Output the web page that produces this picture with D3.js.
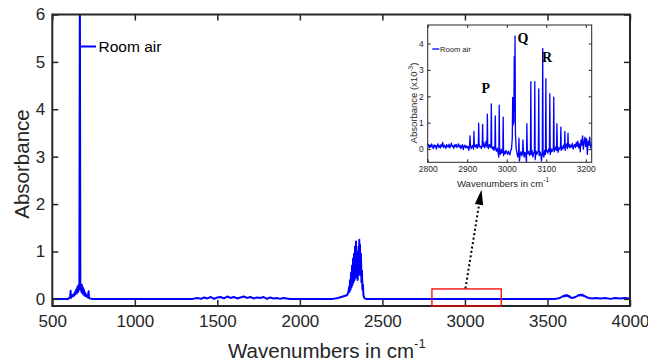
<!DOCTYPE html>
<html><head><meta charset="utf-8">
<script src="https://cdn.jsdelivr.net/npm/d3@7/dist/d3.min.js"></script>
<style>body{margin:0;background:#fff}svg{display:block;font-family:"Liberation Sans",Arial,sans-serif}</style>
</head><body><svg id="c" width="648" height="362"></svg>
<script>
// ---------- main spectrum (wavenumber, absorbance) ----------
const mainWn = [500,540,580,596,600,604,608,611,613,617,621,625,629,633,637,641,645,649,653,657,661,664,667,670,673,676,679,682,685,688,691,694,697,700,704,708,712,716,720,722,728,740,900,1100,1300,1350,
1380,1400,1420,1440,1460,1480,1500,1520,1540,1560,1580,1600,1620,1640,1660,1680,1700,1720,1740,1760,1780,1800,1820,1840,1860,1880,1900,1940,2000,2100,2200,
2230,2240,2250,2260,2270,2280,2288,2294,2298,2301,2304,2307,2310,2313,2316,2319,2322,2325,2328,2331,2334,2337,2340,2342,2344,2346,2348,2350,2352,2354,2356,2358,2360,2362,2364,2367,2370,2373,2376,2379,2382,2385,2388,2392,2400,
2600,2800,3000,3200,3400,3540,
3560,3575,3585,3595,3602,3608,3614,3620,3626,3632,3640,3650,3660,3670,3680,3688,3694,3700,3706,3712,3718,3726,3734,3742,3752,3770,3790,3820,3850,3880,3910,3940,3970,4000];
const mainAbs = [0,0,0,0,0.01,0.03,0.04,0.17,0.02,0.05,0.07,0.05,0.1,0.07,0.14,0.1,0.2,0.12,0.26,0.15,0.3,0.2,6.6,0.22,0.28,0.15,0.3,0.12,0.24,0.1,0.2,0.08,0.14,0.06,0.1,0.05,0.06,0.03,0.16,0.02,0.01,0,0,0,0,0,
0.02,0,0.03,0.01,0.04,0,0.03,0.04,0.01,0.05,0.02,0.04,0.01,0.03,0.05,0.02,0.04,0.01,0.03,0.02,0.04,0,0.03,0.01,0.02,0,0.02,0,0,0,0,
0.02,0.03,0.04,0.05,0.06,0.07,0.09,0.15,0.25,0.15,0.4,0.2,0.55,0.25,0.7,0.3,0.85,0.35,0.95,0.4,1.1,0.45,1.21,0.5,1.0,0.45,0.7,0.4,0.8,0.5,1.1,0.6,1.25,0.55,1.15,0.5,0.95,0.35,0.6,0.2,0.3,0.08,0.04,0.01,0,
0,0,0,0,0,0,
0.01,0.02,0.04,0.06,0.05,0.08,0.06,0.08,0.05,0.06,0.03,0.02,0.03,0.04,0.06,0.08,0.07,0.09,0.07,0.09,0.06,0.06,0.04,0.03,0.02,0.01,0.02,0.01,0.02,0,0.02,0.01,0.02,0.01];
const mainXTicks = [500,1000,1500,2000,2500,3000,3500,4000];
const mainYTicks = [0,1,2,3,4,5,6];

// ---------- inset: baseline every 2 cm-1 from 2800, plus line peaks ----------
const insetBaseStart = 2800, insetBaseStep = 2;
const insetBaseAbs = [
0.12,0.18,0.05,0.15,0.08,0.2,0.1,0.02,0.16,0.09,
0.14,0.0,0.12,0.2,0.07,0.13,0.04,0.18,0.1,0.25,
0.06,0.15,0.1,0.02,0.17,0.11,0.08,0.19,0.05,0.14,
0.22,0.09,0.13,0.03,0.16,0.1,0.18,0.06,0.12,0.2,
0.08,0.14,0.02,0.11,0.17,-0.02,0.1,0.15,0.05,0.12,
0.05,0.1,-0.05,0.12,0.2,0.02,0.08,0.14,0.0,0.1,
0.15,0.06,0.18,0.04,0.12,0.22,0.08,0.1,0.02,0.16,
0.1,0.25,0.05,0.14,0.3,0.08,0.12,0.02,0.18,0.1,
0.06,0.12,0.0,0.08,-0.05,0.1,0.02,-0.08,0.04,-0.12,
-0.3,-0.05,-0.2,0.0,-0.15,-0.08,-0.25,-0.1,-0.18,-0.05,
-0.12,-0.2,-0.08,-0.15,-0.22,-0.05,0.0,0.4,0.9,1.0,
1.5,0.6,0.0,-0.15,-0.3,-0.1,-0.45,-0.2,-0.1,-0.25,
-0.15,-0.05,-0.3,-0.12,-0.2,-0.5,-0.1,-0.18,-0.08,-0.25,
-0.12,-0.2,-0.05,-0.3,-0.15,-0.1,-0.4,-0.08,-0.2,-0.12,
-0.05,-0.25,-0.1,-0.18,-0.45,-0.08,-0.15,-0.3,-0.05,-0.2,
-0.1,-0.05,-0.15,0.0,-0.08,-0.2,0.02,-0.1,-0.05,0.05,
-0.1,0.0,0.08,-0.05,0.1,-0.12,0.05,0.0,0.12,-0.05,
0.08,0.0,0.15,0.05,-0.05,0.12,0.2,0.02,0.1,0.18,
0.05,0.15,0.08,0.22,0.0,0.12,0.18,0.06,0.25,0.1,
0.3,0.05,0.2,-0.1,0.35,0.15,0.5,0.0,0.25,0.45,
0.1,0.4,-0.2,0.3,0.15,0.45,0.05,0.2];
const insetPeakWn = [2907,2917,2929,2939,2951,2961,2971,2981,2991,3015,3017,3019,3021,3031,3041,3051,3061,3071,3081,3091,3099,3109,3119,3127,3137,3147,3155];
const insetPeakAbs = [0.5,0.67,0.98,0.94,1.32,1.71,1.26,1.66,1.21,1.96,1.2,3.5,4.29,0.41,0.35,0.96,2.55,2.55,2.28,3.81,2.67,2.1,1.97,0.96,0.83,0.67,0.6];
const insetXTicks = [2800,2900,3000,3100,3200];
const insetYTicks = [0,1,2,3,4];
const branchNames = ["P","Q","R"];
const branchWn = [2947,3041,3102];
const branchAbs = [2.11,4.02,3.31];

const seriesName = "Room air";
const BLUE = "#0000ff", AX = "#262626";

const svg = d3.select("#c");

// ================= MAIN AXES =================
const x = d3.scaleLinear().domain([500,4000]).range([52.3,630]);
const y = d3.scaleLinear().domain([-0.15,6]).range([306,14.5]);
const [X0,X1] = x.range(), [Y0,Y1] = y.range();

svg.append("defs").append("clipPath").attr("id","mclip")
  .append("rect").attr("x",X0).attr("y",Y1).attr("width",X1-X0).attr("height",Y0-Y1);

const mainData = mainWn.map((w,i)=>({w, a: mainAbs[i]}));
svg.append("path").datum(mainData)
  .attr("clip-path","url(#mclip)")
  .attr("fill","none").attr("stroke",BLUE).attr("stroke-width",2).attr("stroke-linejoin","round")
  .attr("d", d3.line().x(d=>x(d.w)).y(d=>y(d.a)));

function styleAxis(g, fs){
  g.select(".domain").remove();
  g.selectAll(".tick line").attr("stroke",AX);
  g.selectAll("text").attr("fill",AX).attr("font-size",fs).attr("font-family","Liberation Sans, Arial, sans-serif");
}
svg.append("g").attr("transform",`translate(0,${Y0})`)
  .call(d3.axisBottom(x).tickValues(mainXTicks).tickSizeInner(-6).tickSizeOuter(0).tickPadding(9).tickFormat(d3.format("d")))
  .call(g=>{styleAxis(g,17); g.selectAll(".tick line").attr("stroke-width",1.5);});
svg.append("g").attr("transform",`translate(0,${Y1})`)
  .call(d3.axisTop(x).tickValues(mainXTicks).tickSizeInner(-6).tickSizeOuter(0).tickFormat(""))
  .call(g=>{styleAxis(g,17); g.selectAll(".tick line").attr("stroke-width",1.5);});
svg.append("g").attr("transform",`translate(${X0},0)`)
  .call(d3.axisLeft(y).tickValues(mainYTicks).tickSizeInner(-6).tickSizeOuter(0).tickPadding(7).tickFormat(d3.format("d")))
  .call(g=>{styleAxis(g,17); g.selectAll(".tick line").attr("stroke-width",1.5);});
svg.append("g").attr("transform",`translate(${X1},0)`)
  .call(d3.axisRight(y).tickValues(mainYTicks).tickSizeInner(-6).tickSizeOuter(0).tickFormat(""))
  .call(g=>{styleAxis(g,17); g.selectAll(".tick line").attr("stroke-width",1.5);});
svg.append("rect").attr("x",X0).attr("y",Y1).attr("width",X1-X0).attr("height",Y0-Y1)
  .attr("fill","none").attr("stroke",AX).attr("stroke-width",2);

// main axis labels
const xl = svg.append("text").attr("x",228).attr("y",357.5).attr("fill",AX).attr("font-size",20.5);
xl.append("tspan").text("Wavenumbers in cm");
xl.append("tspan").attr("font-size",13).attr("dy",-10).text("-1");
svg.append("text").attr("transform","translate(29,164) rotate(-90)").attr("text-anchor","middle")
  .attr("fill",AX).attr("font-size",20.5).text("Absorbance");

// main legend
svg.append("line").attr("x1",81).attr("x2",96).attr("y1",46.5).attr("y2",46.5).attr("stroke",BLUE).attr("stroke-width",2);
svg.append("text").attr("x",98.5).attr("y",52).attr("font-size",15.5).attr("fill","#000").text(seriesName);

// red zoom rectangle
const zoomWn = [2800,3220], zoomAbs = [-0.15,0.21];
svg.append("rect").attr("x",x(zoomWn[0])).attr("y",y(zoomAbs[1]))
  .attr("width",x(zoomWn[1])-x(zoomWn[0])).attr("height",y(zoomAbs[0])-y(zoomAbs[1]))
  .attr("fill","none").attr("stroke","#ff0000").attr("stroke-width",1.3);

// dotted arrow
const arrowFrom = [3003,0.22], arrowTo = [3100,2.30];
const ax0 = x(arrowFrom[0]), ay0 = y(arrowFrom[1]), ax1 = x(arrowTo[0]), ay1 = y(arrowTo[1]);
const ang = Math.atan2(ay1-ay0, ax1-ax0), L = 15, W = 4.2;
const bx = ax1 - L*Math.cos(ang), by = ay1 - L*Math.sin(ang);
svg.append("line").attr("x1",ax0).attr("y1",ay0).attr("x2",bx).attr("y2",by)
  .attr("stroke","#000").attr("stroke-width",2).attr("stroke-dasharray","2,2.5");
svg.append("path").attr("fill","#000")
  .attr("d",`M${ax1},${ay1}L${bx - W*Math.sin(ang)},${by + W*Math.cos(ang)}L${bx + W*Math.sin(ang)},${by - W*Math.cos(ang)}Z`);

// ================= INSET =================
const ix = d3.scaleLinear().domain([2800,3215]).range([427.7,591.7]);
const iy = d3.scaleLinear().domain([-0.5,4.7]).range([162.3,25]);
const [IX0,IX1] = ix.range(), [IY0,IY1] = iy.range();
svg.append("rect").attr("x",IX0).attr("y",IY1).attr("width",IX1-IX0).attr("height",IY0-IY1).attr("fill","#fff");
svg.append("defs").append("clipPath").attr("id","iclip")
  .append("rect").attr("x",IX0).attr("y",IY1).attr("width",IX1-IX0).attr("height",IY0-IY1);

const insetData = insetBaseAbs.map((a,i)=>({w: insetBaseStart + i*insetBaseStep, a}))
  .concat(insetPeakWn.map((w,i)=>({w, a: insetPeakAbs[i]})))
  .sort((p,q)=>p.w-q.w);
svg.append("path").datum(insetData).attr("clip-path","url(#iclip)")
  .attr("fill","none").attr("stroke",BLUE).attr("stroke-width",1.3).attr("stroke-linejoin","round")
  .attr("d", d3.line().x(d=>ix(d.w)).y(d=>iy(d.a)));

svg.append("g").attr("transform",`translate(0,${IY0})`)
  .call(d3.axisBottom(ix).tickValues(insetXTicks).tickSizeInner(-3).tickSizeOuter(0).tickPadding(4).tickFormat(d3.format("d")))
  .call(g=>styleAxis(g,8.5));
svg.append("g").attr("transform",`translate(0,${IY1})`)
  .call(d3.axisTop(ix).tickValues(insetXTicks).tickSizeInner(-3).tickSizeOuter(0).tickFormat(""))
  .call(g=>styleAxis(g,8.5));
svg.append("g").attr("transform",`translate(${IX0},0)`)
  .call(d3.axisLeft(iy).tickValues(insetYTicks).tickSizeInner(-3).tickSizeOuter(0).tickPadding(4).tickFormat(d3.format("d")))
  .call(g=>styleAxis(g,8.5));
svg.append("g").attr("transform",`translate(${IX1},0)`)
  .call(d3.axisRight(iy).tickValues(insetYTicks).tickSizeInner(-3).tickSizeOuter(0).tickFormat(""))
  .call(g=>styleAxis(g,8.5));
svg.append("rect").attr("x",IX0).attr("y",IY1).attr("width",IX1-IX0).attr("height",IY0-IY1)
  .attr("fill","none").attr("stroke",AX).attr("stroke-width",1);

// inset labels
const ixl = svg.append("text").attr("x",457).attr("y",186.5).attr("fill",AX).attr("font-size",9.5);
ixl.append("tspan").text("Wavenumbers in cm");
ixl.append("tspan").attr("font-size",6.5).attr("dy",-4.5).text("-1");
const iyl = svg.append("text").attr("transform","translate(417,103) rotate(-90)").attr("text-anchor","middle")
  .attr("fill",AX).attr("font-size",9.5);
iyl.append("tspan").text("Absorbance (x10");
iyl.append("tspan").attr("font-size",6.5).attr("dy",-4).text("-3");
iyl.append("tspan").attr("dy",4).text(")");

// inset legend
svg.append("line").attr("x1",432.3).attr("x2",439.3).attr("y1",49).attr("y2",49).attr("stroke",BLUE).attr("stroke-width",1.3);
svg.append("text").attr("x",440).attr("y",51.8).attr("font-size",7.6).attr("fill","#222").text(seriesName);

// branch labels
svg.selectAll("text.br").data(branchNames).enter().append("text").attr("class","br")
  .attr("x",(d,i)=>ix(branchWn[i])).attr("y",(d,i)=>iy(branchAbs[i]))
  .attr("text-anchor","middle").attr("font-family","Liberation Serif, Times New Roman, serif")
  .attr("font-weight","bold").attr("font-size",14).attr("fill","#000").text(d=>d);
</script></body></html>
